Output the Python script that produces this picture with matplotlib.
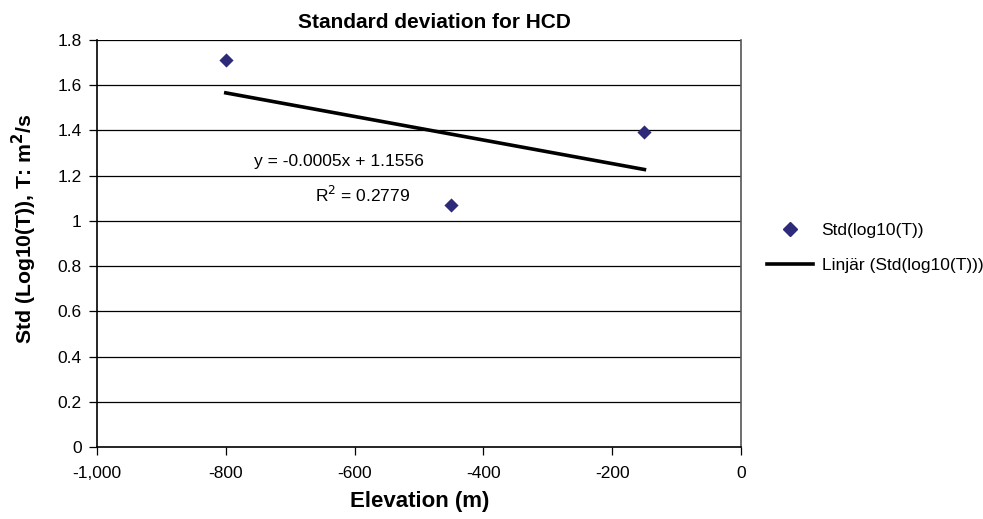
import numpy as np
import matplotlib
matplotlib.use("Agg")
import matplotlib.pyplot as plt
from matplotlib.lines import Line2D

plt.rcParams['font.family'] = ['Liberation Sans', 'DejaVu Sans']

elevation = [-800, -450, -150]
std_log10T = [1.71, 1.072, 1.395]
x_ticks = [-1000, -800, -600, -400, -200, 0]
x_tick_labels = ["-1,000", "-800", "-600", "-400", "-200", "0"]
y_ticks = [0, 0.2, 0.4, 0.6, 0.8, 1, 1.2, 1.4, 1.6, 1.8]
y_tick_labels = ["0", "0.2", "0.4", "0.6", "0.8", "1", "1.2", "1.4", "1.6", "1.8"]

fig = plt.figure(figsize=(9.83, 5.19), dpi=100)
ax = fig.add_axes([97/983, 1 - 447/519, (741-97)/983, (447-40)/519])

ax.set_xlim(-1000, 0)
ax.set_ylim(0, 1.8)
for t in y_ticks[1:]:
    ax.axhline(t, color='black', lw=0.9, zorder=1)

xs = np.array(elevation, dtype=float)
ys = np.array(std_log10T, dtype=float)
slope, intercept = np.polyfit(xs, ys, 1)
xl = np.array([xs.min(), xs.max()])
ax.plot(xl, slope * xl + intercept, color='black', lw=2.6, zorder=3)
ax.scatter(xs, ys, marker='D', s=52, color='#2E2A7A', zorder=4, linewidths=0)

ax.text(-625, 1.262, "y = -0.0005x + 1.1556", ha='center', va='center', fontsize=12.5)
ax.text(-588, 1.115, r"R$^{2}$ = 0.2779", ha='center', va='center', fontsize=12.5)

ax.set_xticks(x_ticks)
ax.set_xticklabels(x_tick_labels, fontsize=12.5)
ax.set_yticks(y_ticks)
ax.set_yticklabels(y_tick_labels, fontsize=12.5)
ax.tick_params(axis='y', direction='out', length=6, width=0.9, color='black', pad=5)
ax.tick_params(axis='x', direction='out', length=6, width=0.9, color='black', pad=8)

for s in ['left', 'bottom']:
    ax.spines[s].set_color('black')
    ax.spines[s].set_linewidth(1.2)
ax.spines['right'].set_color('#555555')
ax.spines['right'].set_linewidth(1.2)
ax.spines['top'].set_visible(False)

fig.text(434/983, 1 - 23/519, "Standard deviation for HCD", fontsize=15,
         fontweight='bold', ha='center', va='center')
fig.text(420/983, 1 - 502/519, "Elevation (m)", fontsize=16,
         fontweight='bold', ha='center', va='center')
fig.text(24/983, 1 - 229/519, r"Std (Log10(T)), T: m$^{\mathbf{2}}$/s", fontsize=15.3,
         fontweight='bold', ha='center', va='center', rotation=90)

handles = [Line2D([], [], marker='D', color='#2E2A7A', ls='none', markersize=7),
           Line2D([], [], color='black', lw=2.6)]
fig.legend(handles, ["Std(log10(T))", "Linjär (Std(log10(T)))"],
           loc='center left', bbox_to_anchor=(767/983, 1 - 248/519),
           frameon=False, fontsize=12.5, handlelength=2.65, handletextpad=0.5,
           labelspacing=1.1, borderpad=0, borderaxespad=0)

fig.savefig("out.png", dpi=100)
